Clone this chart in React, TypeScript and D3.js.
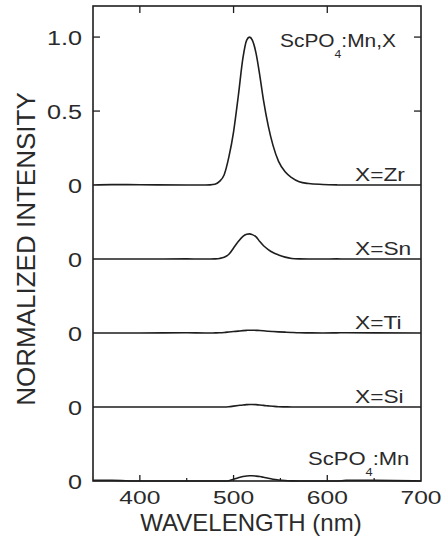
import React, { useRef, useEffect } from "react";
import * as d3 from "d3";

// shared wavelength grid (nm) for all spectra
const wavelength = [350, 370, 400, 450, 470, 475, 480, 485, 490, 495, 500, 505, 510, 514, 517, 520, 524, 528, 532, 537, 542, 548, 555, 562, 570, 580, 595, 610, 620, 650, 700];

const zrIntensity = [0, 0.003, 0.002, 0, 0, 0.001, 0.005, 0.025, 0.07, 0.19, 0.36, 0.6, 0.86, 0.98, 1.0, 0.98, 0.89, 0.74, 0.57, 0.4, 0.27, 0.16, 0.09, 0.05, 0.022, 0.01, 0.004, 0.001, 0, 0, 0];
const snIntensity = [0, 0, 0, 0.001, 0, 0, 0.001, 0.004, 0.012, 0.032, 0.075, 0.118, 0.153, 0.167, 0.17, 0.165, 0.15, 0.118, 0.09, 0.064, 0.044, 0.028, 0.013, 0.004, 0.001, 0, 0, 0.001, 0, 0, 0];
const tiIntensity = [0, 0, 0, 0.002, 0, 0, 0.001, 0.002, 0.004, 0.007, 0.01, 0.013, 0.016, 0.018, 0.019, 0.019, 0.018, 0.017, 0.015, 0.012, 0.01, 0.008, 0.006, 0.004, 0.002, 0.001, 0, 0.001, 0.002, 0.001, 0];
const siIntensity = [0, 0, 0, 0, 0, 0, 0, 0, 0, 0.002, 0.006, 0.01, 0.014, 0.016, 0.017, 0.017, 0.016, 0.014, 0.011, 0.008, 0.005, 0.002, 0.001, 0, 0, 0, 0, 0, 0, 0, 0];
const mnIntensity = [0.004, 0.004, 0, 0, 0, 0, 0, 0, 0, 0.002, 0.012, 0.022, 0.03, 0.034, 0.035, 0.035, 0.033, 0.03, 0.025, 0.018, 0.012, 0.007, 0.003, 0.001, 0, 0, 0, 0, 0.004, 0.004, 0];

// vertical offset of each trace (in intensity units)
const offsets = [2, 1.5, 1, 0.5, 0];
const seriesNames = ["X=Zr", "X=Sn", "X=Ti", "X=Si", "ScPO4:Mn"];
const seriesValues = [zrIntensity, snIntensity, tiIntensity, siIntensity, mnIntensity];

const xTicks = [400, 500, 600, 700];
const xMinorTicks = [450, 550, 650];
const topPanelTicks = [0.5, 1.0];
const titleText = ["ScPO", "4", ":Mn,X"];
const xLabel = "WAVELENGTH (nm)";
const yLabel = "NORMALIZED INTENSITY";

const W = 443;
const H = 550;
const ink = "#1e1e1e";
const textInk = "#2a2a2a";
const font = "'Liberation Sans', Arial, Helvetica, sans-serif";

function App() {
  const svgRef = useRef<SVGSVGElement | null>(null);

  useEffect(() => {
    const svg = d3.select(svgRef.current);
    svg.selectAll("*").remove();

    const left = 93, right = 421, top = 6, bottom = 481;

    const x = d3.scaleLinear().domain([350, 700]).range([left, right]);
    const y = d3.scaleLinear().domain([0, 3.21]).range([bottom, top]);

    const g = svg.append("g");

    // traces
    const line = d3.line<[number, number]>()
      .x(d => x(d[0]))
      .y(d => y(d[1]))
      .curve(d3.curveMonotoneX);

    seriesValues.forEach((vals, i) => {
      const pts: [number, number][] = wavelength.map((w, j) => [w, vals[j] + offsets[i]]);
      g.append("path")
        .datum(pts)
        .attr("fill", "none")
        .attr("stroke", ink)
        .attr("stroke-width", 1.6)
        .attr("stroke-linejoin", "round")
        .attr("d", line);
    });

    // frame
    g.append("rect")
      .attr("x", left).attr("y", top)
      .attr("width", right - left).attr("height", bottom - top)
      .attr("fill", "none")
      .attr("stroke", ink)
      .attr("stroke-width", 1.6);

    // x ticks (inside, top and bottom)
    xTicks.filter(t => t < 700).forEach(t => {
      g.append("line").attr("x1", x(t)).attr("x2", x(t)).attr("y1", bottom).attr("y2", bottom - 6)
        .attr("stroke", ink).attr("stroke-width", 1.3);
      g.append("line").attr("x1", x(t)).attr("x2", x(t)).attr("y1", top).attr("y2", top + 7)
        .attr("stroke", ink).attr("stroke-width", 1.3);
    });
    xMinorTicks.forEach(t => {
      g.append("line").attr("x1", x(t)).attr("x2", x(t)).attr("y1", bottom).attr("y2", bottom - 3)
        .attr("stroke", ink).attr("stroke-width", 1.2);
    });

    // y ticks on the top panel (left and right)
    topPanelTicks.forEach(t => {
      const yy = y(t + offsets[0]);
      g.append("line").attr("x1", left).attr("x2", left + 7).attr("y1", yy).attr("y2", yy)
        .attr("stroke", ink).attr("stroke-width", 1.3);
      g.append("line").attr("x1", right).attr("x2", right - 7).attr("y1", yy).attr("y2", yy)
        .attr("stroke", ink).attr("stroke-width", 1.3);
    });

    // y tick labels
    const yLabels: { v: number; text: string }[] = [
      { v: 1.0 + offsets[0], text: "1.0" },
      { v: 0.5 + offsets[0], text: "0.5" },
      ...offsets.map(o => ({ v: o, text: "0" })),
    ];
    yLabels.forEach(d => {
      g.append("text")
        .attr("transform", `translate(82,${y(d.v)}) scale(1.2,1)`)
        .attr("dy", "0.36em")
        .attr("text-anchor", "end")
        .attr("font-family", font)
        .attr("font-size", 21)
        .attr("fill", textInk)
        .text(d.text);
    });

    // x tick labels
    xTicks.forEach(t => {
      g.append("text")
        .attr("transform", `translate(${x(t)},504) scale(1.33,1)`)
        .attr("text-anchor", "middle")
        .attr("font-family", font)
        .attr("font-size", 18.5)
        .attr("fill", textInk)
        .text(String(t));
    });

    // axis titles
    g.append("text")
      .attr("x", 251).attr("y", 531)
      .attr("text-anchor", "middle")
      .attr("font-family", font)
      .attr("font-size", 24)
      .attr("fill", textInk)
      .text(xLabel);

    g.append("text")
      .attr("transform", `translate(35,249) rotate(-90)`)
      .attr("text-anchor", "middle")
      .attr("font-family", font)
      .attr("font-size", 26)
      .attr("fill", textInk)
      .text(yLabel);

    // formula label helper with subscript "4"
    const formula = (parts: string[], tx: number, ty: number, size: number, sx: number) => {
      const t = g.append("text")
        .attr("transform", `translate(${tx},${ty}) scale(${sx},1)`)
        .attr("font-family", font)
        .attr("font-size", size)
        .attr("fill", textInk);
      t.append("tspan").text(parts[0]);
      t.append("tspan").attr("font-size", size * 0.58).attr("dy", 11).text(parts[1]);
      t.append("tspan").attr("dy", -11).text(parts[2]);
    };

    formula(titleText, 280, 47, 19, 1.1);

    // series labels
    seriesNames.forEach((name, i) => {
      const base = y(offsets[i]);
      if (name.startsWith("ScPO")) {
        formula(["ScPO", "4", ":Mn"], 308, base - 16, 19, 1.16);
      } else {
        g.append("text")
          .attr("transform", `translate(355,${base - 4}) scale(1.3,1)`)
          .attr("font-family", font)
          .attr("font-size", 17.5)
          .attr("fill", textInk)
          .text(name);
      }
    });
  }, []);

  return (
    <svg
      ref={svgRef}
      width={W}
      height={H}
      style={{ position: "absolute", left: 0, top: 0, background: "#fff", display: "block" }}
    />
  );
}

export default App;
